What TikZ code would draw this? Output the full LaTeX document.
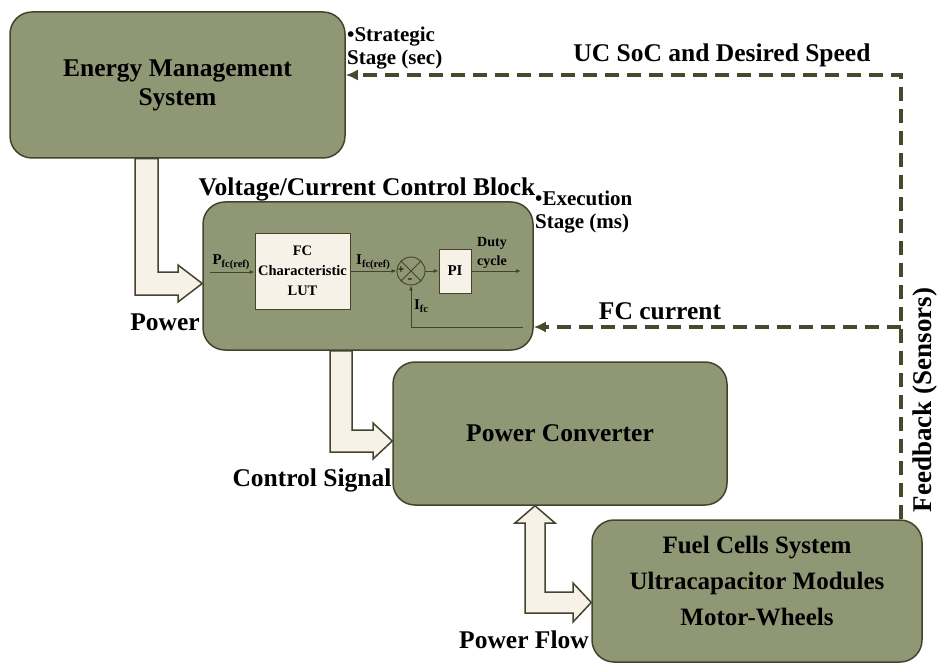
\documentclass[tikz,border=0pt]{standalone}
\usepackage{fontspec}
\setmainfont{Liberation Serif}
\usetikzlibrary{arrows.meta}

\definecolor{boxfill}{RGB}{143,151,117}
\definecolor{boxline}{RGB}{66,68,44}
\definecolor{creamfill}{RGB}{248,241,232}
\definecolor{dashline}{RGB}{72,72,44}

\newcommand{\lowsub}[1]{\raisebox{-0.4ex}{\fontsize{10.5}{10.5}\selectfont #1}}

\begin{document}
\begin{tikzpicture}[
    x=1pt,
    y=-1pt,
    bigbox/.style={
        rectangle,
        draw=boxline,
        line width=1.5pt,
        fill=boxfill,
        rounded corners=22pt,
        align=center,
        font=\fontsize{25.5}{29}\selectfont\bfseries
    },
    lutbox/.style={
        rectangle,
        draw=boxline,
        line width=0.8pt,
        fill=creamfill,
        align=center,
        inner sep=0pt,
        font=\fontsize{14.5}{20}\selectfont\bfseries
    },
    biglabel/.style={
        align=center,
        font=\fontsize{25.5}{29}\selectfont\bfseries
    },
    stagelabel/.style={
        align=left,
        anchor=west,
        inner sep=0pt,
        font=\fontsize{21}{23}\selectfont\bfseries
    },
    smalllabel/.style={
        align=center,
        inner sep=0pt,
        font=\fontsize{15}{19}\selectfont\bfseries
    },
    sig/.style={
        -{Latex[length=5pt,width=4pt]},
        draw=boxline,
        line width=0.9pt
    },
    dasharrow/.style={
        -{Latex[length=12pt,width=11pt]},
        draw=dashline,
        line width=3.2pt,
        dash pattern=on 14pt off 8pt
    },
    hollow/.style={
        draw=boxline,
        line width=1.5pt,
        fill=creamfill,
        line join=miter
    }
]
\useasboundingbox (0,0) rectangle (937,663);

% main blocks
\node[bigbox, minimum width=335pt, minimum height=146pt] (ems) at (177.5,85) {Energy Management\\System};
\node[bigbox, minimum width=330pt, minimum height=148pt] (ctrl) at (368,276) {};
\node[bigbox, minimum width=334pt, minimum height=143pt] (conv) at (560,433.5) {Power Converter};
\node[bigbox, minimum width=330pt, minimum height=142pt] (fcsys) at (757,591) {};
\node[biglabel, font=\fontsize{25}{36}\selectfont\bfseries] (fctext) at (757,581) {Fuel Cells System\\Ultracapacitor Modules\\Motor-Wheels};

% inside the control block
\node[lutbox, minimum width=95pt, minimum height=76pt] (lut) at (302.5,271) {FC\\Characteristic\\LUT};
\node[circle, draw=boxline, line width=0.9pt, minimum size=28pt, inner sep=0pt] (sum) at (411,271) {};
\draw[boxline, line width=0.9pt] (sum.45) -- (sum.225) (sum.135) -- (sum.315);
\node[lutbox, minimum width=32pt, minimum height=44pt, font=\fontsize{15}{20}\selectfont\bfseries] (pi) at (455,271) {PI};
\coordinate (pin) at (210,272);
\coordinate (dout) at (521,271);
\coordinate (ifb) at (523,327);

\draw[sig] (pin) -- (lut.west |- pin);
\draw[sig] (lut.east |- sum.west) -- (sum.west);
\draw[sig] (sum.east) -- (pi.west);
\draw[sig] (pi.east) -- (dout);
\draw[sig] (ifb) -| (sum.south);

\node[smalllabel] (pfc) at (231,262) {P\lowsub{fc(ref)}};
\node[smalllabel] (ifcref) at (373,262) {I\lowsub{fc(ref)}};
\node[smalllabel] (ifc) at (421,306) {I\lowsub{fc}};
\node[smalllabel, font=\fontsize{12}{12}\selectfont\bfseries] (plus) at (401,270) {+};
\node[smalllabel, font=\fontsize{13}{13}\selectfont\bfseries] (minus) at (410,281) {-};
\node[smalllabel, font=\fontsize{14}{19}\selectfont\bfseries] (duty) at (492,253) {Duty\\cycle};

% labels
\node[biglabel] (ctrltitle) at (367,189) {Voltage/Current Control Block};
\node[stagelabel] (strat) at (347,48) {\textbullet Strategic\\Stage (sec)};
\node[stagelabel] (exec) at (535,212) {\textbullet Execution\\Stage (ms)};
\node[biglabel] (uclabel) at (722,55) {UC SoC and Desired Speed};
\node[biglabel] (fclabel) at (660,311) {FC current};
\node[biglabel, rotate=90, font=\fontsize{27}{29}\selectfont\bfseries] (fblabel) at (925,400) {Feedback (Sensors)};
\node[biglabel] (powlabel) at (165,322) {Power};
\node[biglabel] (ctrllabel) at (312,480) {Control Signal};
\node[biglabel] (flowlabel) at (524,640) {Power Flow};

% hollow arrows
\draw[hollow] (135,0 |- ems.south) -- (135,295) -- (178,295) -- (178,302)
    -- (ctrl.west |- 0,283.5) -- (178,265) -- (178,272) -- (158,272)
    -- (158,0 |- ems.south) -- cycle;
\draw[hollow] (330,0 |- ctrl.south) -- (330,452) -- (373,452) -- (373,459)
    -- (conv.west |- 0,441) -- (373,423) -- (373,430) -- (352,430)
    -- (352,0 |- ctrl.south) -- cycle;
\draw[hollow] (535,0 |- conv.south) -- (555,523) -- (545,523) -- (545,592)
    -- (573,592) -- (573,583) -- (fcsys.west |- 0,602.5) -- (573,622)
    -- (573,613) -- (525,613) -- (525,523) -- (515,523) -- cycle;

% feedback lines
\coordinate (corner) at (901,75);
\coordinate (tap) at (901,327);
\draw[dasharrow] (fcsys.north -| corner) -- (corner) -- (corner -| ems.east);
\draw[dasharrow] (tap) -- (tap -| ctrl.east);

\end{tikzpicture}
\end{document}
